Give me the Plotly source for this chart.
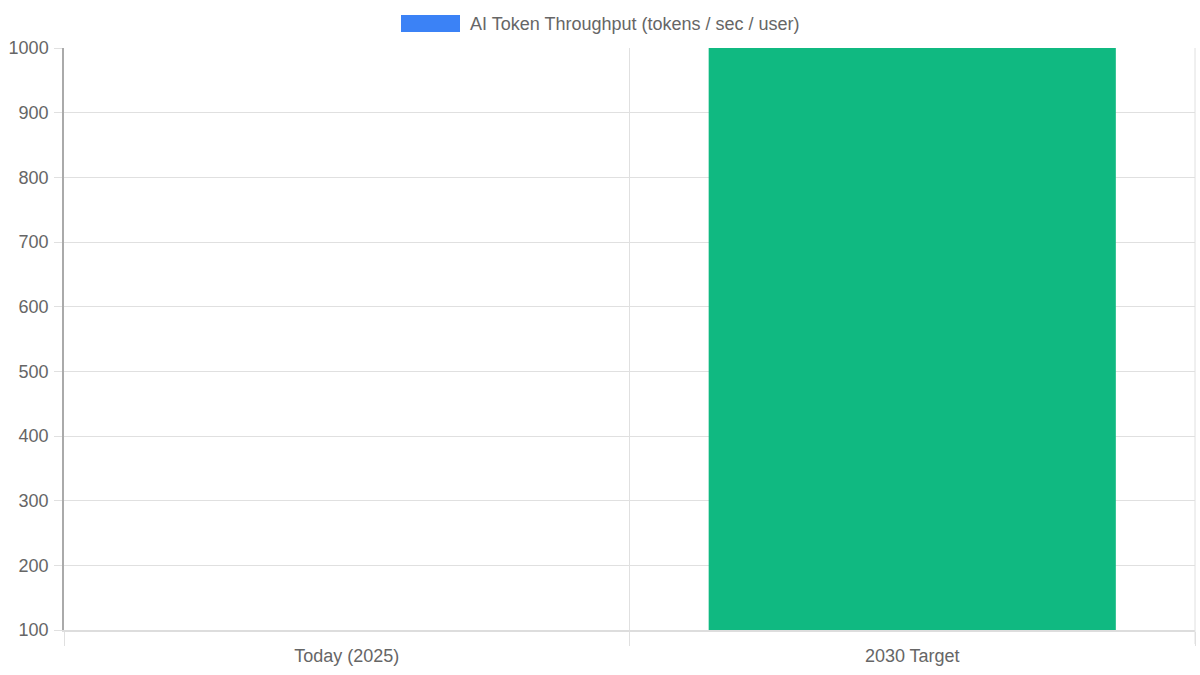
import plotly.graph_objects as go

categories = ["Today (2025)", "2030 Target"]
values = [50, 1000]
bar_colors = ["#3b82f6", "#10b981"]
series_name = "AI Token Throughput (tokens / sec / user)"
y_ticks = [100, 200, 300, 400, 500, 600, 700, 800, 900, 1000]

FONT = "Liberation Sans, Arial, sans-serif"
GRID = "#e0e0e0"

fig = go.Figure()
fig.add_trace(go.Bar(
    x=categories, y=values, marker=dict(color=bar_colors, line=dict(width=0)),
    name=series_name, showlegend=False, width=0.72,
))

fig.update_layout(
    width=1200, height=675,
    margin=dict(l=64, r=5, t=48, b=45),
    plot_bgcolor="white", paper_bgcolor="white",
    font=dict(family=FONT, size=18, color="#666666"),
    xaxis=dict(
        type="category", tickson="boundaries", showgrid=True, gridcolor=GRID,
        ticks="outside", ticklen=14, tickcolor=GRID,
        showline=True, linecolor="#dddddd", linewidth=2,
        tickfont=dict(size=18, color="#666666"), zeroline=False,
        ticklabelstandoff=8,
    ),
    yaxis=dict(
        range=[100, 1000], tickvals=y_ticks, showgrid=True, gridcolor=GRID,
        ticks="outside", ticklen=8, tickcolor=GRID,
        showline=True, linecolor="#aaaaaa", linewidth=1.5,
        tickfont=dict(size=18, color="#666666"), zeroline=False,
        ticklabelstandoff=2,
    ),
    bargap=0.28,
)

# right boundary grid line + tick (Chart.js offset grid)
fig.add_shape(type="line", xref="paper", yref="paper",
              x0=1, x1=1, y0=-14 / 582, y1=1,
              line=dict(color=GRID, width=1))

# legend drawn as swatch + label (Chart.js style)
fig.add_shape(type="rect", xref="paper", yref="paper",
              x0=(401 - 64) / 1131, x1=(460 - 64) / 1131,
              y0=(630 - 32) / 582, y1=(630 - 15) / 582,
              fillcolor=bar_colors[0], line=dict(width=0))
fig.add_annotation(text=series_name, xref="paper", yref="paper",
                   x=(468 - 64) / 1131, y=(630 - 24) / 582,
                   xanchor="left", yanchor="middle", showarrow=False,
                   font=dict(size=18, color="#666666", family=FONT))

fig.write_html("out.html", config={"displayModeBar": False},
               post_script="document.body.style.margin='0';document.body.style.overflow='hidden';")
